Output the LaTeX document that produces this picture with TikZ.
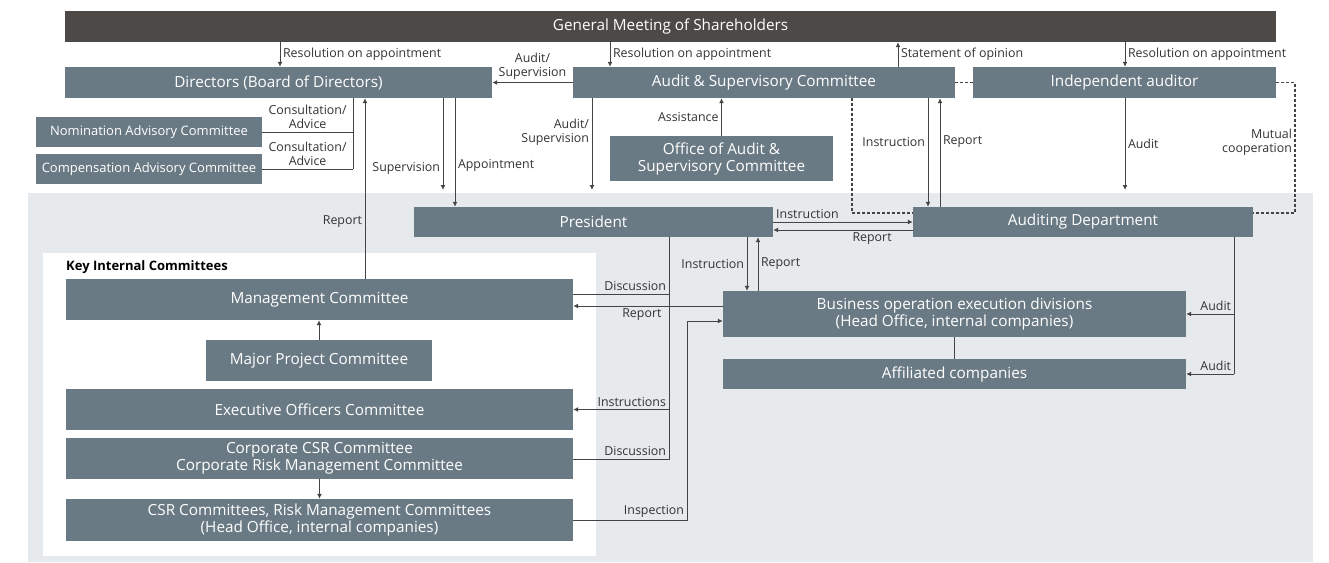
\documentclass[tikz,border=0pt]{standalone}
\usepackage{fontspec}
\setmainfont{Open Sans}
\usetikzlibrary{arrows.meta}
\definecolor{boxgray}{HTML}{6A7A84}
\definecolor{topgray}{HTML}{4D4947}
\definecolor{bggray}{HTML}{E6EAED}
\definecolor{linegray}{HTML}{444444}
\definecolor{lblgray}{HTML}{333333}
\tikzset{>={Latex[length=5pt,width=5pt]}}
\tikzset{
  orgbox/.style={fill=boxgray, text=white, inner sep=0pt, align=center,
    font=\fontsize{15.3}{17}\selectfont},
  smallbox/.style={orgbox, font=\fontsize{13}{15}\selectfont},
  lbl/.style={text=lblgray, inner sep=2.5pt, font=\fontsize{12.4}{14}\selectfont},
  conn/.style={draw=linegray, line width=1pt},
  coop/.style={draw=linegray, line width=1.2pt, dash pattern=on 3pt off 2pt},
}

\begin{document}
\begin{tikzpicture}[x=1pt, y=-1pt]
  \useasboundingbox (0,0) rectangle (1329,562);

  % areas
  \node[fill=bggray, inner sep=0pt, minimum width=1285, minimum height=369, anchor=north west] (execarea) at (28,193) {};
  \node[fill=white, inner sep=0pt, minimum width=553, minimum height=303, anchor=north west] (kic) at (43,253) {};
  \node[anchor=west, inner sep=0pt, font=\fontsize{13}{15}\bfseries] (kictitle) at (66,267) {Key Internal Committees};

  % top level
  \node[orgbox, fill=topgray, minimum width=1211, minimum height=31] (gm) at (670.5,26.5) {General Meeting of Shareholders};
  \node[orgbox, minimum width=427, minimum height=31] (dirs) at (278.5,82.5) {Directors (Board of Directors)};
  \node[orgbox, minimum width=382, minimum height=31] (asc) at (764,82.5) {Audit \& Supervisory Committee};
  \node[orgbox, minimum width=303, minimum height=31] (indaud) at (1124.5,82.5) {Independent auditor};
  \node[smallbox, minimum width=226, minimum height=30] (nom) at (149,132) {Nomination Advisory Committee};
  \node[smallbox, minimum width=226, minimum height=30] (comp) at (149,169) {Compensation Advisory Committee};
  \node[orgbox, minimum width=223, minimum height=45] (office) at (721.5,158.5) {Office of Audit \&\\Supervisory Committee};

  % execution side
  \node[orgbox, minimum width=359, minimum height=30] (pres) at (593.5,222) {President};
  \node[orgbox, minimum width=340, minimum height=30] (auddept) at (1083,222) {Auditing Department};
  \node[orgbox, minimum width=463, minimum height=46] (busops) at (954.5,314) {Business operation execution divisions\\(Head Office, internal companies)};
  \node[orgbox, minimum width=463, minimum height=30] (affil) at (954.5,374) {Affiliated companies};

  % key internal committees
  \node[orgbox, minimum width=507, minimum height=41] (mgmt) at (319.5,299.5) {Management Committee};
  \node[orgbox, minimum width=226, minimum height=41] (major) at (319,360.5) {Major Project Committee};
  \node[orgbox, minimum width=507, minimum height=41] (exec) at (319.5,409.5) {Executive Officers Committee};
  \node[orgbox, minimum width=507, minimum height=41] (corp) at (319.5,458.5) {Corporate CSR Committee\\Corporate Risk Management Committee};
  \node[orgbox, minimum width=507, minimum height=42] (csr) at (319.5,520) {CSR Committees, Risk Management Committees\\(Head Office, internal companies)};

  % lanes
  \coordinate (lResDir) at (280,0);
  \coordinate (lResAsc) at (610,0);
  \coordinate (lResInd) at (1125,0);
  \coordinate (lStmt) at (898,0);
  \coordinate (lConsult) at (353,0);
  \coordinate (lRep) at (365,0);
  \coordinate (lSup) at (443,0);
  \coordinate (lAppt) at (455,0);
  \coordinate (lAsup) at (592,0);
  \coordinate (lDash) at (852,213);
  \coordinate (lInstr) at (928,0);
  \coordinate (lRepA) at (940,0);
  \coordinate (lMutual) at (1295,213);
  \coordinate (yRepP) at (0,230);
  \coordinate (lPInst) at (747,0);
  \coordinate (lPRep) at (758,0);
  \coordinate (lPres) at (669,459);
  \coordinate (yDisc) at (0,294);
  \coordinate (yRepM) at (0,306);
  \coordinate (lInsp) at (687,321);
  \coordinate (lAudD) at (1234,374);

  % from the general meeting
  \draw[conn,->] (gm.south -| lResDir) -- (dirs.north -| lResDir) node[lbl, midway, right] {Resolution on appointment};
  \draw[conn,->] (gm.south -| lResAsc) -- (asc.north -| lResAsc) node[lbl, midway, right] {Resolution on appointment};
  \draw[conn,->] (gm.south -| lResInd) -- (indaud.north -| lResInd) node[lbl, midway, right] {Resolution on appointment};
  \draw[conn,->] (asc.north -| lStmt) -- (gm.south -| lStmt) node[lbl, midway, right] {Statement of opinion};

  % directors
  \draw[conn,->] (asc.west) -- (dirs.east) node[lbl, midway, above, align=center] {Audit/\\Supervision};
  \draw[conn] (dirs.south -| lConsult) -- (comp.east -| lConsult);
  \draw[conn] (nom.east) -- (nom.east -| lConsult) node[lbl, midway, above, align=center] {Consultation/\\Advice};
  \draw[conn] (comp.east) -- (comp.east -| lConsult) node[lbl, midway, above, align=center] {Consultation/\\Advice};
  \draw[conn,->] (mgmt.north -| lRep) -- (dirs.south -| lRep) node[lbl, pos=0.315, left] {Report};
  \draw[conn,->, shorten >=3pt] (dirs.south -| lSup) -- (execarea.north -| lSup) node[lbl, pos=0.74, left] {Supervision};
  \draw[conn,->] (dirs.south -| lAppt) -- (pres.north -| lAppt) node[lbl, pos=0.62, right] {Appointment};

  % audit & supervisory committee
  \draw[conn,->, shorten >=3pt] (asc.south -| lAsup) -- (execarea.north -| lAsup) node[lbl, pos=0.36, left, align=right] {Audit/\\Supervision};
  \draw[conn,->] (office.north) -- (office.north |- asc.south) node[lbl, midway, left] {Assistance};
  \draw[coop] (asc.east) -- (indaud.west);
  \draw[coop] (asc.south -| lDash) |- (auddept.west |- lDash);
  \draw[conn,->] (asc.south -| lInstr) -- (auddept.north -| lInstr) node[lbl, pos=0.4, left] {Instruction};
  \draw[conn,->] (auddept.north -| lRepA) -- (asc.south -| lRepA) node[lbl, pos=0.6, right] {Report};

  % independent auditor
  \draw[conn,->, shorten >=3pt] (indaud.south -| lResInd) -- (execarea.north -| lResInd) node[lbl, pos=0.48, right] {Audit};
  \draw[coop] (indaud.east) -| (lMutual) node[lbl, pos=0.73, left, align=right] {Mutual\\cooperation} -- (auddept.east |- lMutual);

  % president
  \draw[conn,->] (pres.east) -- (auddept.west |- pres.east) node[lbl, pos=0, above right] {Instruction};
  \draw[conn,->] (auddept.west |- yRepP) -- (pres.east |- yRepP) node[lbl, pos=0.13, below left] {Report};
  \draw[conn,->] (pres.south -| lPInst) -- (busops.north -| lPInst) node[lbl, midway, left] {Instruction};
  \draw[conn,->] (busops.north -| lPRep) -- (pres.south -| lPRep) node[lbl, midway, right] {Report};
  \draw[conn] (pres.south -| lPres) |- (corp.east |- lPres) node[lbl, pos=0.5, above left] {Discussion};
  \draw[conn] (lPres |- yDisc) -- (mgmt.east |- yDisc) node[lbl, pos=0, above left] {Discussion};
  \draw[conn,->] (lPres |- exec.east) -- (exec.east) node[lbl, pos=0, above left] {Instructions};
  \draw[conn,->] (busops.west |- yRepM) -- (mgmt.east |- yRepM) node[lbl, pos=0.39, below left] {Report};
  \draw[conn,->] (csr.east) -| (lInsp) node[lbl, pos=0.5, above left] {Inspection} -- (busops.west |- lInsp);

  % inside the committees
  \draw[conn,->] (major.north) -- (major.north |- mgmt.south);
  \draw[conn,->] (corp.south) -- (corp.south |- csr.north);

  % auditing department
  \draw[conn] (auddept.south -| lAudD) -- (lAudD);
  \draw[conn,->] (lAudD |- busops.east) -- (busops.east) node[lbl, pos=0, above left] {Audit};
  \draw[conn,->] (lAudD) -- (lAudD -| affil.east) node[lbl, pos=0, above left] {Audit};
  \draw[conn] (busops.south) -- (affil.north);
\end{tikzpicture}
\end{document}
